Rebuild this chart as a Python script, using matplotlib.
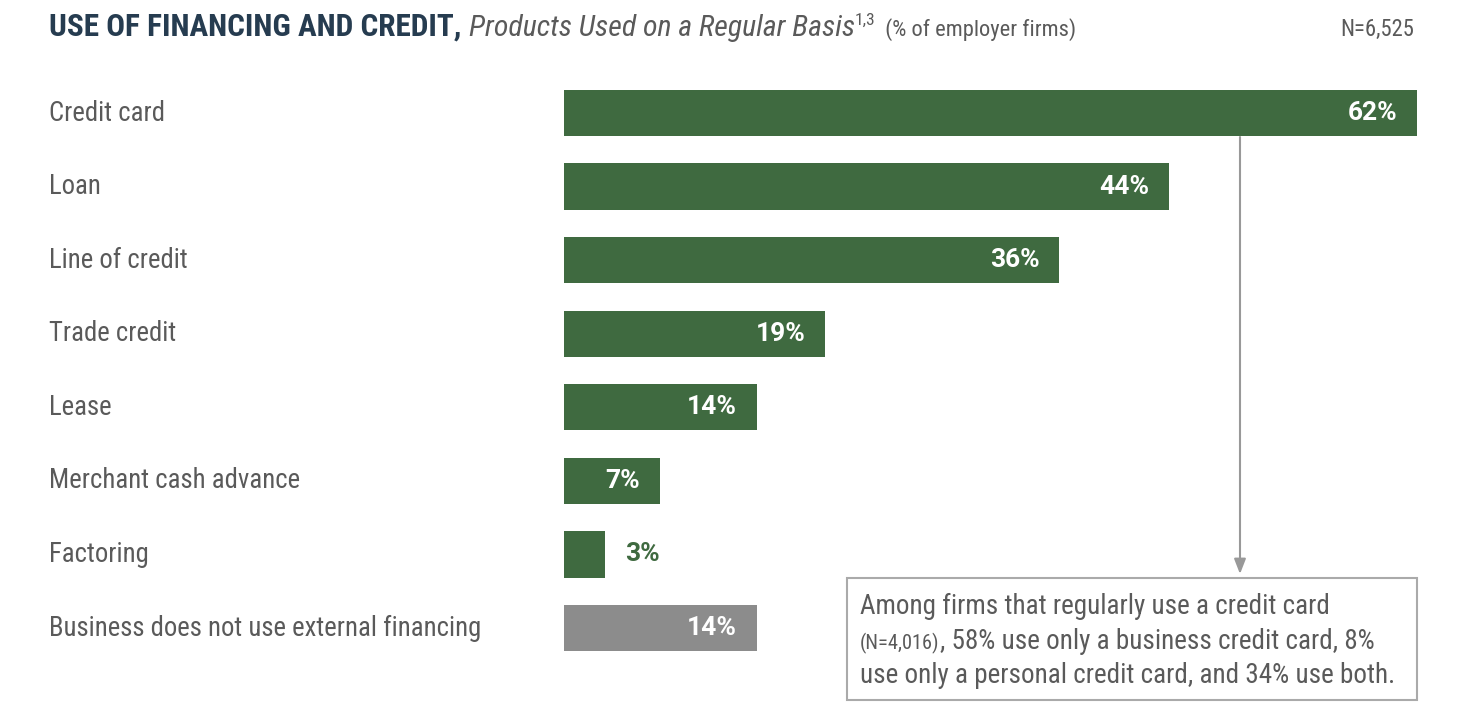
import matplotlib
matplotlib.use("Agg")
import matplotlib.pyplot as plt
from matplotlib import font_manager
from matplotlib.patches import Rectangle

categories = ["Credit card", "Loan", "Line of credit", "Trade credit", "Lease",
              "Merchant cash advance", "Factoring", "Business does not use external financing"]
values = [62, 44, 36, 19, 14, 7, 3, 14]
is_none = [False, False, False, False, False, False, False, True]

GREEN = "#3f6a40"
GRAY_BAR = "#8c8c8c"
TXT = "#5a5a5a"
NAVY = "#263c50"

names = {f.name for f in font_manager.fontManager.ttflist}
FONT = "Roboto Condensed" if "Roboto Condensed" in names else "Roboto"
plt.rcParams["font.family"] = [FONT, "DejaVu Sans"]
NUMFONT = ["Roboto", "DejaVu Sans"]

W, H = 1472, 722
fig = plt.figure(figsize=(W / 100, H / 100), dpi=100)

# axes placed so bars start at x=564px and 62% ends at 1417px
ax = fig.add_axes((564 / W, 1 - 664.75 / H, 853 / W, (664.75 - 76.25) / H))
ax.set_xlim(0, 62)
ax.set_ylim(len(categories) - 0.5, -0.5)
ax.axis("off")

ypos = list(range(len(categories)))
colors = [GRAY_BAR if n else GREEN for n in is_none]
ax.barh(ypos, values, height=0.63, color=colors)

for y, v, lab in zip(ypos, values, categories):
    ax.annotate(lab, xy=(0, y), xycoords=("figure fraction", "data"),
                xytext=(49, 0), textcoords="offset pixels",
                ha="left", va="center", fontsize=19.3, color=TXT)
    if v >= 7:
        ax.annotate(f"{v}%", xy=(v, y), xytext=(-20, 0), textcoords="offset pixels",
                    ha="right", va="center", fontsize=19, fontweight="bold",
                    color="white", family=NUMFONT)
    else:
        ax.annotate(f"{v}%", xy=(v, y), xytext=(20, 0), textcoords="offset pixels",
                    ha="left", va="center", fontsize=19, fontweight="bold",
                    color=GREEN, family=NUMFONT)

renderer = fig.canvas.get_renderer()


def run_text(x_px, y_px, parts):
    # draw pieces of text one after another on a shared baseline
    x = x_px
    for s, kw in parts:
        dy = kw.pop("dy", 0)
        t = fig.text(x / W, 1 - (y_px - dy) / H, s, va="baseline", ha="left", **kw)
        x += t.get_window_extent(renderer).width
    return x


run_text(49, 36, [
    ("USE OF FINANCING AND CREDIT, ", dict(fontsize=22.5, fontweight="bold", color=NAVY)),
    ("Products Used on a Regular Basis", dict(fontsize=21.5, style="italic", color=TXT)),
    ("1,3", dict(fontsize=12.5, color=TXT, dy=11)),
    ("  (% of employer firms)", dict(fontsize=16.2, color=TXT)),
])
fig.text(1414 / W, 1 - 36 / H, "N=6,525", ha="right", va="baseline", fontsize=16.3, color=TXT)

# annotation box
bx0, by0, bx1, by1 = 847, 578, 1417, 700
fig.patches.append(Rectangle((bx0 / W, 1 - by1 / H), (bx1 - bx0) / W, (by1 - by0) / H,
                             transform=fig.transFigure, facecolor="white",
                             edgecolor="#aaaaaa", linewidth=1.5))
box_fs = 19.5
run_text(860, 614, [("Among firms that regularly use a credit card", dict(fontsize=box_fs, color=TXT))])
run_text(860, 649, [("(N=4,016)", dict(fontsize=14.7, color=TXT)),
                    (", 58% use only a business credit card, 8%", dict(fontsize=box_fs, color=TXT))])
run_text(860, 683, [("use only a personal credit card, and 34% use both.", dict(fontsize=box_fs, color=TXT))])

# arrow from the credit card bar down to the box
ax.annotate("", xy=(1240 / W, 1 - 574 / H), xycoords="figure fraction",
            xytext=(1240 / W, 1 - 137 / H),
            arrowprops=dict(arrowstyle="-|>,head_length=0.9,head_width=0.35",
                            color="#999999", lw=1.5, shrinkA=0, shrinkB=0))

fig.savefig("out.png", dpi=100)
